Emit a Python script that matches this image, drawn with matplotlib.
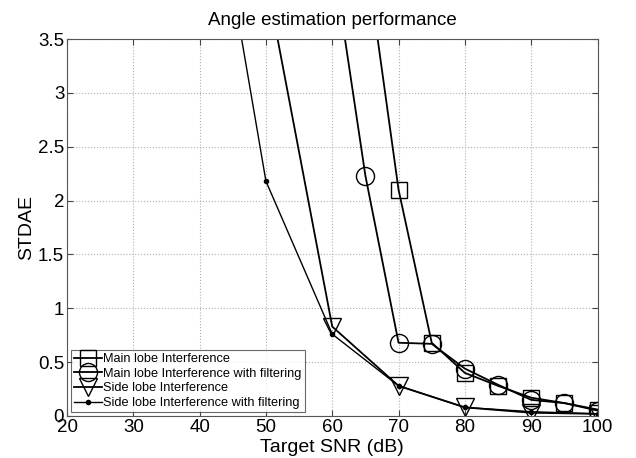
import matplotlib
matplotlib.use("Agg")
import matplotlib.pyplot as plt

# data
snr_main = [65, 70, 75, 80, 85, 90, 95, 100]
stdae_main = [4.32, 2.10, 0.68, 0.40, 0.28, 0.17, 0.12, 0.06]

snr_main_filt = [60, 65, 70, 75, 80, 85, 90, 95, 100]
stdae_main_filt = [4.29, 2.23, 0.68, 0.67, 0.44, 0.29, 0.15, 0.12, 0.05]

snr_side = [50, 60, 70, 80, 90, 100]
stdae_side = [4.07, 0.83, 0.28, 0.08, 0.03, 0.02]

snr_side_filt = [40, 50, 60, 70, 80, 90, 100]
stdae_side_filt = [5.78, 2.18, 0.76, 0.28, 0.08, 0.04, 0.02]

plt.rcParams["font.family"] = ["Liberation Sans", "DejaVu Sans"]

fig = plt.figure(figsize=(6.36, 4.58), dpi=100)
ax = fig.add_axes([67 / 636, 42 / 458, 530.5 / 636, 377 / 458])

common = dict(color="black", linewidth=1.3, fillstyle="none", markeredgewidth=1.0)
ax.plot(snr_main, stdae_main, marker="s", markersize=11, label="Main lobe Interference", **common)
ax.plot(snr_main_filt, stdae_main_filt, marker="o", markersize=13, label="Main lobe Interference with filtering", **common)
ax.plot(snr_side, stdae_side, marker="v", markersize=13, label="Side lobe Interference", **common)
ax.plot(snr_side_filt, stdae_side_filt, marker=".", markersize=6, color="black", linewidth=1.0,
        label="Side lobe Interference with filtering")

ax.set_xlim(20, 100)
ax.set_ylim(0, 3.5)
ax.set_xticks(range(20, 101, 10))
ax.set_yticks([0, 0.5, 1, 1.5, 2, 2.5, 3, 3.5])
ax.set_yticklabels(["0", "0.5", "1", "1.5", "2", "2.5", "3", "3.5"])
ax.tick_params(direction="in", top=True, right=True, labelsize=13.5, length=4, color="#444444", pad=2)
ax.grid(True, linestyle=":", color="#b0b0b0", linewidth=0.8)
for s in ax.spines.values():
    s.set_color("#555555")

ax.set_title("Angle estimation performance", fontsize=13.5, pad=10)
ax.set_xlabel("Target SNR (dB)", fontsize=14, labelpad=2)
ax.set_ylabel("STDAE", fontsize=14, labelpad=2)

leg = ax.legend(loc="lower left", fontsize=9.2, frameon=True, fancybox=False, edgecolor="#444444",
                handlelength=2.2, handletextpad=0.1, borderpad=0.25, labelspacing=0.2,
                borderaxespad=0.3)
leg.get_frame().set_linewidth(0.8)

fig.savefig("out.png", dpi=100)
